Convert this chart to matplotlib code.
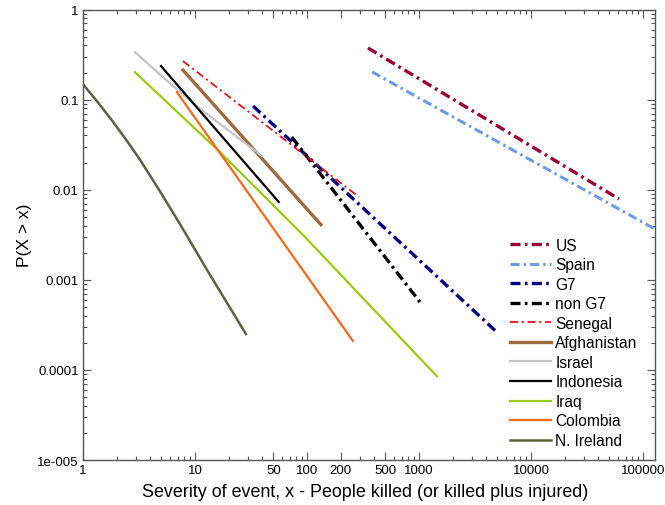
#!/usr/bin/env python

import matplotlib
matplotlib.use("Agg")
import matplotlib.pyplot as plt
from matplotlib.ticker import FixedLocator, FixedFormatter, NullFormatter

plt.rcParams['font.family'] = ['Liberation Sans', 'DejaVu Sans']

# series: (name, x points, P(X > x) points)
us_x = [350, 61000]
us_y = [0.374, 0.0079]
spain_x = [381, 128000]
spain_y = [0.203, 0.00366]
g7_x = [33, 5000]
g7_y = [0.085, 0.00026]
nong7_x = [73, 1064]
nong7_y = [0.0385, 0.00053]
senegal_x = [7.8, 291]
senegal_y = [0.268, 0.0083]
afghan_x = [7.8, 133]
afghan_y = [0.213, 0.0041]
israel_x = [2.91, 5.1, 10.3, 39.6]
israel_y = [0.337, 0.18, 0.085, 0.0237]
indonesia_x = [4.97, 56]
indonesia_y = [0.236, 0.0073]
iraq_x = [2.91, 16.7, 96, 1446]
iraq_y = [0.202, 0.0262, 0.00299, 8.5e-5]
colombia_x = [6.9, 257]
colombia_y = [0.121, 0.00021]
nireland_x = [1.0, 1.325, 1.85, 2.455, 3.23, 4.87, 7.35, 12.8, 28.5]
nireland_y = [0.148, 0.097, 0.0569, 0.0352, 0.0215, 0.0096, 0.00415, 0.00129, 0.00025]

x_ticks = [1, 10, 50, 100, 200, 500, 1000, 10000, 100000]
x_labels = ['1', '10', '50', '100', '200', '500', '1000', '10000', '100000']
y_ticks = [1e-5, 1e-4, 1e-3, 1e-2, 1e-1, 1]
y_labels = ['1e-005', '0.0001', '0.001', '0.01', '0.1', '1']


def minor_positions(lo_exp, hi_exp, skip=()):
    pos = []
    for e in range(lo_exp, hi_exp):
        for m in range(2, 10):
            v = m * 10.0 ** e
            if v not in skip:
                pos.append(v)
    return pos


def main():
    fig = plt.figure(figsize=(6.65, 5.06), dpi=100)
    ax = fig.add_axes([0.1248, 0.0889, 0.8602, 0.8903])
    ax.set_xscale('log')
    ax.set_yscale('log')

    dd = (3.0, 1.3, 0.8, 1.3)
    ax.plot(us_x, us_y, color='#990033', lw=2.4, dashes=dd, label='US')
    ax.plot(spain_x, spain_y, color='#6f9be6', lw=2.2, dashes=dd, label='Spain')
    ax.plot(g7_x, g7_y, color='#000080', lw=2.4, dashes=dd, label='G7')
    ax.plot(nong7_x, nong7_y, color='black', lw=2.4, dashes=dd, label='non G7')
    ax.plot(senegal_x, senegal_y, color='#e8101a', lw=1.3, dashes=(4.5, 2, 1.2, 2), label='Senegal')
    ax.plot(afghan_x, afghan_y, color='#9c6b3c', lw=2.4, label='Afghanistan')
    ax.plot(israel_x, israel_y, color='#c4c4c4', lw=1.6, label='Israel')
    ax.plot(indonesia_x, indonesia_y, color='black', lw=1.6, label='Indonesia')
    ax.plot(iraq_x, iraq_y, color='#99cc11', lw=1.6, label='Iraq')
    ax.plot(colombia_x, colombia_y, color='#f06a1a', lw=1.6, label='Colombia')
    ax.plot(nireland_x, nireland_y, color='#5f6042', lw=1.8, label='N. Ireland')

    ax.set_xlim(1, 128000)
    ax.set_ylim(1e-5, 1)

    ax.xaxis.set_major_locator(FixedLocator(x_ticks))
    ax.xaxis.set_major_formatter(FixedFormatter(x_labels))
    ax.xaxis.set_minor_locator(FixedLocator(minor_positions(0, 5, skip=(50.0, 200.0, 500.0))))
    ax.xaxis.set_minor_formatter(NullFormatter())
    ax.yaxis.set_major_locator(FixedLocator(y_ticks))
    ax.yaxis.set_major_formatter(FixedFormatter(y_labels))
    ax.yaxis.set_minor_locator(FixedLocator(minor_positions(-5, 0)))
    ax.yaxis.set_minor_formatter(NullFormatter())

    for s in ax.spines.values():
        s.set_color('#555555')
        s.set_linewidth(1.0)
    ax.tick_params(which='both', direction='in', top=True, right=True,
                   colors='#555555', labelcolor='black', labelsize=9.5, width=0.8)
    ax.tick_params(which='major', length=6, pad=3)
    ax.tick_params(which='minor', length=3)

    ax.set_xlabel('Severity of event, x - People killed (or killed plus injured)', fontsize=12.9, labelpad=5)
    ax.xaxis.set_label_coords(0.493, -0.052)
    ax.set_ylabel('P(X > x)', fontsize=12.5, labelpad=4)

    ax.legend(loc='lower right', bbox_to_anchor=(0.986, 0.006), frameon=False,
              fontsize=11.2, labelspacing=0.29, handlelength=2.6, handletextpad=0.3,
              borderaxespad=0.2)

    fig.savefig('out.png', dpi=100)


if __name__ == "__main__":
    main()
